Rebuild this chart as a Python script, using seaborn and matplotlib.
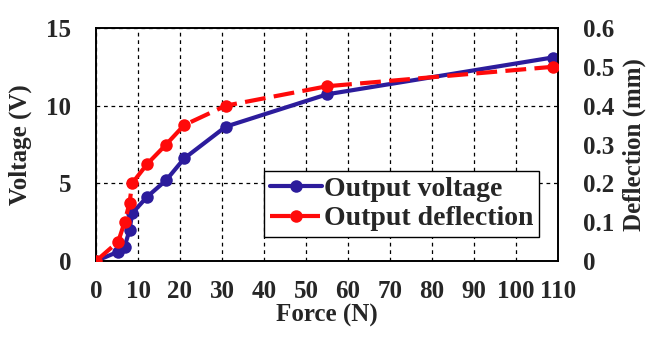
import matplotlib
matplotlib.use("Agg")
import matplotlib.pyplot as plt
import seaborn as sns
import pandas as pd

force = [0, 5.3, 6.8, 8.0, 8.6, 12.2, 16.7, 21.0, 30.9, 55.0, 108.7]
voltage = [0, 0.6, 0.92, 2.0, 3.07, 4.14, 5.2, 6.6, 8.65, 10.73, 13.1]
deflection = [0, 0.05, 0.10, 0.15, 0.20, 0.25, 0.30, 0.35, 0.40, 0.45, 0.50]
x_ticks = [0, 10, 20, 30, 40, 50, 60, 70, 80, 90, 100, 110]
v_ticks = [0, 5, 10, 15]
d_ticks = [0, 0.1, 0.2, 0.3, 0.4, 0.5, 0.6]

df = pd.DataFrame({"Force": force, "Voltage": voltage, "Deflection": deflection})

sns.set_theme(style="white")
plt.rcParams['font.family'] = ['Liberation Serif', 'DejaVu Serif']
plt.rcParams['font.weight'] = 'bold'

fig = plt.figure(figsize=(6.47, 3.38), dpi=100)
ax = fig.add_axes([96/647, 1 - 261/338, (558-96)/647, (261-28)/338])
ax2 = ax.twinx()

blue = '#2c1c9c'
red = '#ff0a0a'

sns.lineplot(data=df, x="Force", y="Voltage", ax=ax, color=blue, lw=3,
             marker='o', markersize=9, markeredgewidth=0, label="Output voltage",
             legend=False, zorder=3)
sns.lineplot(data=df, x="Force", y="Deflection", ax=ax2, color=red, lw=3,
             marker='o', markersize=9, markeredgewidth=0, label="Output deflection",
             legend=False, zorder=3)
ax2.lines[0].set_dashes([5, 2])

ax.set_xlim(0, 110)
ax.set_ylim(0, 15)
ax2.set_ylim(0, 0.6)
ax.set_xticks(x_ticks)
ax.set_yticks(v_ticks)
ax2.set_yticks(d_ticks)
ax.set_xticklabels([str(t) for t in x_ticks])
ax.set_yticklabels([str(t) for t in v_ticks])
ax2.set_yticklabels(['0'] + [f"{t:.1f}" for t in d_ticks[1:]])

for a in (ax, ax2):
    a.tick_params(axis='both', labelsize=18, length=0)
    a.tick_params(axis='y', pad=18)
    a.tick_params(axis='x', pad=14)
    for lab in a.get_xticklabels() + a.get_yticklabels():
        lab.set_fontweight('bold')
    for s in a.spines.values():
        s.set_color('black')
        s.set_linewidth(1.2)

ax.grid(True, color='black', linestyle=(0, (3, 3)), linewidth=0.9)
ax.set_axisbelow(True)
ax2.grid(False)

ax.set_xlabel("Force (N)", fontsize=18, fontweight='bold', labelpad=0)
ax.set_ylabel("Voltage (V)", fontsize=18, fontweight='bold', labelpad=10)
ax2.set_ylabel("Deflection (mm)", fontsize=18, fontweight='bold', labelpad=6)

h1, l1 = ax.get_legend_handles_labels()
h2, l2 = ax2.get_legend_handles_labels()
leg = ax2.legend(h1 + h2, l1 + l2, loc='lower left',
                 bbox_to_anchor=((264-96)/462, (261-237)/233),
                 prop={'family': 'Liberation Serif', 'weight': 'bold', 'size': 20},
                 frameon=True, fancybox=False, edgecolor='black', framealpha=1,
                 handlelength=1.9, handletextpad=0.05, borderpad=0.2,
                 labelspacing=0.15, borderaxespad=0)
leg.get_frame().set_linewidth(1.0)

fig.savefig("out.png", dpi=100)
